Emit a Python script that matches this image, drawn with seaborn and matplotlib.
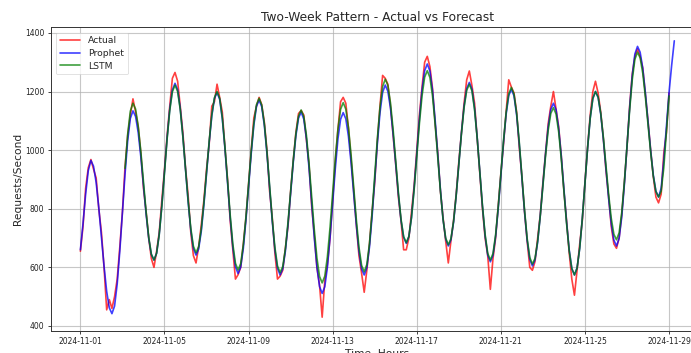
import matplotlib
matplotlib.use("Agg")
import matplotlib.pyplot as plt
import matplotlib.dates as mdates
import pandas as pd
import seaborn as sns

# ---- data (3-hour samples starting 2024-11-01 00:00) ----
actual_start = "2024-11-01 00:00"
prophet_start = "2024-11-01 00:00"
lstm_start = "2024-11-03 03:00"
sample_freq = "3h"

actual = [
    655, 740, 870, 940, 968, 935, 905, 800,
    720, 600, 455, 490, 460, 500, 560, 670,
    790, 945, 1050, 1120, 1175, 1130, 1080, 990,
    870, 790, 700, 630, 600, 655, 720, 830,
    935, 1050, 1150, 1245, 1265, 1235, 1150, 1060,
    940, 845, 720, 640, 615, 670, 745, 830,
    935, 1020, 1150, 1165, 1225, 1180, 1130, 1010,
    900, 760, 660, 560, 575, 600, 680, 770,
    885, 1000, 1110, 1150, 1180, 1155, 1095, 1000,
    860, 770, 650, 560, 570, 590, 665, 740,
    860, 965, 1060, 1125, 1135, 1120, 1035, 950,
    810, 710, 600, 540, 430, 555, 610, 700,
    830, 960, 1070, 1165, 1180, 1160, 1075, 970,
    860, 745, 640, 580, 515, 590, 680, 790,
    890, 1030, 1150, 1255, 1245, 1225, 1150, 1050,
    950, 840, 760, 660, 660, 700, 790, 880,
    1000, 1120, 1215, 1300, 1320, 1285, 1210, 1090,
    990, 860, 770, 690, 615, 690, 760, 850,
    960, 1060, 1160, 1240, 1270, 1220, 1160, 1040,
    920, 800, 700, 640, 525, 630, 700, 810,
    920, 1020, 1130, 1240, 1215, 1195, 1130, 1010,
    910, 790, 690, 600, 590, 620, 700, 780,
    890, 990, 1090, 1150, 1200, 1140, 1080, 980,
    860, 760, 650, 560, 505, 590, 680, 760,
    890, 1010, 1120, 1200, 1235, 1195, 1130, 1040,
    930, 840, 740, 680, 665, 700, 780, 890,
    1010, 1150, 1260, 1320, 1345, 1320, 1280, 1190,
    1100, 1000, 910, 840, 820, 850, 990, 1060,
    1195,
]

prophet = [
    660, 750, 850, 930, 965, 945, 889, 803,
    704, 604, 518, 462, 442, 468, 543, 656,
    788, 920, 1033, 1108, 1134, 1115, 1060, 977,
    880, 782, 699, 644, 625, 648, 713, 811,
    927, 1042, 1140, 1205, 1228, 1206, 1142, 1047,
    935, 823, 728, 664, 642, 663, 723, 814,
    920, 1026, 1116, 1176, 1197, 1173, 1107, 1006,
    888, 770, 669, 602, 579, 601, 665, 762,
    875, 988, 1085, 1149, 1171, 1148, 1084, 987,
    873, 758, 661, 597, 574, 595, 655, 746,
    852, 958, 1049, 1109, 1130, 1106, 1040, 939,
    821, 702, 601, 535, 511, 534, 601, 702,
    820, 937, 1038, 1105, 1128, 1107, 1047, 957,
    851, 745, 655, 595, 574, 599, 669, 774,
    898, 1022, 1127, 1197, 1222, 1201, 1143, 1055,
    952, 849, 761, 703, 682, 705, 771, 871,
    988, 1105, 1205, 1271, 1294, 1270, 1203, 1102,
    984, 865, 764, 697, 673, 694, 754, 845,
    952, 1059, 1150, 1210, 1231, 1208, 1142, 1042,
    925, 808, 708, 642, 619, 641, 705, 801,
    914, 1026, 1122, 1186, 1208, 1185, 1120, 1022,
    907, 791, 693, 628, 605, 626, 686, 777,
    883, 988, 1079, 1139, 1160, 1138, 1074, 979,
    867, 755, 660, 596, 574, 598, 665, 767,
    887, 1007, 1109, 1176, 1200, 1180, 1123, 1037,
    937, 836, 750, 693, 673, 699, 772, 883,
    1014, 1144, 1255, 1328, 1354, 1334, 1279, 1195,
    1097, 999, 915, 860, 840, 870, 965, 1080,
    1197, 1290, 1373,
]

lstm = [
    938, 1055, 1133, 1160, 1140, 1082, 995,
    893, 790, 703, 645, 625, 648, 712, 809,
    924, 1038, 1135, 1199, 1222, 1200, 1138, 1045,
    936, 827, 734, 672, 650, 671, 730, 820,
    925, 1030, 1120, 1179, 1200, 1177, 1111, 1012,
    896, 779, 680, 614, 591, 613, 677, 772,
    884, 996, 1091, 1155, 1177, 1154, 1090, 993,
    880, 766, 669, 605, 582, 603, 663, 754,
    860, 965, 1056, 1116, 1137, 1115, 1051, 955,
    842, 729, 633, 569, 547, 570, 637, 737,
    855, 972, 1072, 1139, 1162, 1140, 1078, 984,
    874, 763, 669, 607, 585, 610, 681, 788,
    914, 1039, 1146, 1217, 1242, 1221, 1161, 1070,
    963, 856, 765, 705, 684, 706, 770, 865,
    978, 1090, 1185, 1249, 1271, 1248, 1184, 1087,
    974, 861, 764, 700, 677, 698, 757, 846,
    951, 1056, 1145, 1204, 1225, 1202, 1137, 1040,
    925, 810, 713, 648, 625, 647, 711, 807,
    920, 1032, 1128, 1192, 1214, 1191, 1126, 1028,
    913, 797, 699, 634, 611, 631, 689, 776,
    878, 980, 1067, 1125, 1145, 1123, 1062, 969,
    860, 750, 657, 596, 574, 598, 665, 767,
    887, 1007, 1109, 1176, 1200, 1181, 1126, 1044,
    947, 850, 768, 713, 694, 718, 787, 892,
    1014, 1136, 1240, 1310, 1334, 1315, 1262, 1181,
    1087, 993, 912, 859, 840, 860, 940, 1060,
    1185,
]

title = "Two-Week Pattern - Actual vs Forecast"
xlabel = "Time, Hours"
ylabel = "Requests/Second"
tick_days = [1, 5, 9, 13, 17, 21, 25, 29]

# ---- build frames ----
df_actual = pd.DataFrame({"time": pd.date_range(actual_start, periods=len(actual), freq=sample_freq), "value": actual})
df_prophet = pd.DataFrame({"time": pd.date_range(prophet_start, periods=len(prophet), freq=sample_freq), "value": prophet})
df_lstm = pd.DataFrame({"time": pd.date_range(lstm_start, periods=len(lstm), freq=sample_freq), "value": lstm})

sns.set_style("white")
plt.rcParams["font.family"] = ["DejaVu Sans"]

W, H = 691, 353
fig = plt.figure(figsize=(W / 100, H / 100), dpi=100)
ax = fig.add_axes([50.7 / W, 22 / H, (704 - 50.7) / W, (331 - 27) / H])

sns.lineplot(data=df_actual, x="time", y="value", ax=ax, color="red", alpha=0.75, lw=1.2, label="Actual")
sns.lineplot(data=df_prophet, x="time", y="value", ax=ax, color="blue", alpha=0.75, lw=1.2, label="Prophet")
sns.lineplot(data=df_lstm, x="time", y="value", ax=ax, color="green", alpha=0.75, lw=1.2, label="LSTM")

ax.set_title(title, fontsize=8.8, pad=4)
ax.set_xlabel(xlabel, fontsize=7.7, labelpad=2)
ax.set_ylabel(ylabel, fontsize=7.7, labelpad=1.5)

ax.xaxis.set_major_locator(mdates.DayLocator(bymonthday=tick_days))
ax.xaxis.set_major_formatter(mdates.DateFormatter("%Y-%m-%d"))
ax.tick_params(axis="both", labelsize=5.5, length=2.5, width=0.6, pad=2,
               bottom=True, left=True, colors="#222222")

ax.grid(True, color="#b0b0b0", alpha=0.7, lw=0.8)
for s in ax.spines.values():
    s.set_linewidth(0.7)
    s.set_color("#333333")

leg = ax.legend(loc="upper left", fontsize=6.7, framealpha=0.8, borderaxespad=0.6,
                handlelength=2.2, labelspacing=0.4)
leg.get_frame().set_linewidth(0.5)

fig.savefig("out.png", dpi=100)
